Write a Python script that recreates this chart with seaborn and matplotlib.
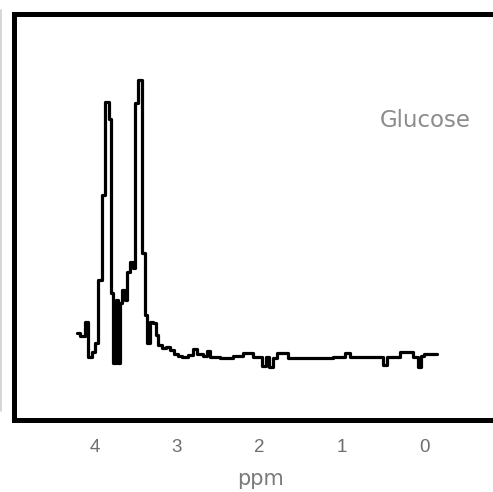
import matplotlib
matplotlib.use("Agg")
import matplotlib.pyplot as plt
from matplotlib.lines import Line2D
import seaborn as sns
import pandas as pd

# 1H NMR spectrum of glucose (chemical shift in ppm, relative intensity)
ppm = [4.206, 4.170, 4.109, 4.073, 4.024, 3.988, 3.952, 3.903, 3.867, 3.818,
       3.794, 3.770, 3.733, 3.709, 3.685, 3.661, 3.624, 3.600, 3.564, 3.527,
       3.503, 3.467, 3.418, 3.382, 3.358, 3.321, 3.285, 3.248, 3.224, 3.176,
       3.127, 3.079, 3.030, 2.982, 2.933, 2.861, 2.800, 2.752, 2.679, 2.630,
       2.594, 2.473, 2.315, 2.194, 2.073, 1.964, 1.915, 1.879, 1.830, 1.782,
       1.648, 1.103, 0.958, 0.897, 0.497, 0.448, 0.291, 0.133, 0.073, 0.036,
       0.000, -0.158]
intensity = [8.0, 6.9, 12.0, -0.7, 1.1, 4.4, 27.3, 58.2, 92.0, 85.8,
             22.5, -2.9, 20.0, -2.9, 18.9, 23.6, 20.0, 30.2, 33.8, 31.6,
             91.6, 100.0, 37.1, 14.5, 4.4, 12.0, 11.6, 7.3, 3.6, 2.5,
             2.9, 1.8, 0.4, -0.4, -0.7, 0.0, 2.2, 0.4, -0.4, 1.5,
             -0.7, -1.1, -0.4, 0.7, -0.7, -4.0, -0.7, -4.4, -1.1, 0.7,
             -1.1, -0.7, 0.7, -0.7, -3.6, -0.7, 1.1, -0.7, -4.4, -0.4,
             0.4, 0.4]
ticks = [4, 3, 2, 1, 0]
tick_labels = ["4", "3", "2", "1", "0"]
sample = "Glucose"

df = pd.DataFrame({"ppm": ppm, "intensity": intensity})

sns.set_style("white")
plt.rcParams["font.family"] = ["Liberation Sans", "DejaVu Sans"]

fig = plt.figure(figsize=(4.93, 4.92), dpi=100)
ax = fig.add_axes([0.0294, 0.1463, 0.998, 0.8262])

sns.lineplot(data=df, x="ppm", y="intensity", ax=ax, sort=False,
             estimator=None, color="black", linewidth=2.3,
             drawstyle="steps-post")

ax.set_xlim(4.97, -1.0)
ax.set_ylim(-23.6, 124.2)
ax.set_xticks(ticks)
ax.set_xticklabels(tick_labels)
ax.set_yticks([])
ax.set_ylabel("")
ax.set_xlabel("ppm", fontsize=15, color="#7a7a7a", labelpad=9,
              family="DejaVu Sans")

for side in ["left", "right", "top", "bottom"]:
    ax.spines[side].set_linewidth(3.6)
    ax.spines[side].set_color("black")

ax.tick_params(axis="x", direction="in", length=12, width=1.8,
               color="black", labelsize=13.5, labelcolor="#6e6e6e", pad=14)

ax.text(0.835, 0.738, sample, transform=ax.transAxes, ha="center",
        va="center", fontsize=16.5, color="#8c8c8c", family="DejaVu Sans")

# thin border of the neighbouring panel at the left edge
fig.add_artist(Line2D([0.002, 0.002], [0.165, 0.98], transform=fig.transFigure,
                      color="#cfcfcf", linewidth=1.2))

fig.savefig("out.png", dpi=100)
